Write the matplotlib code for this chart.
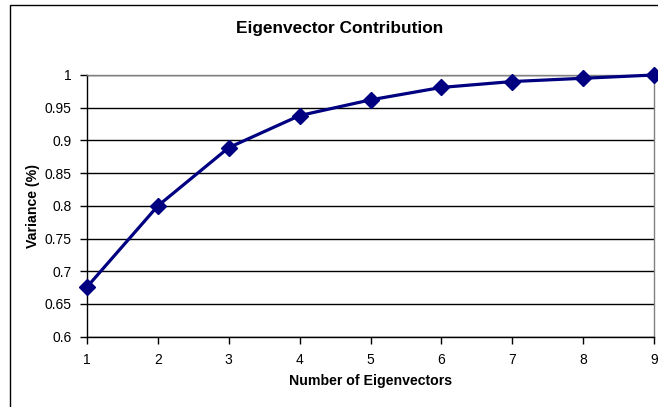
import matplotlib
matplotlib.use("Agg")
import matplotlib.pyplot as plt
from matplotlib.patches import Rectangle

# Cumulative variance explained by the leading eigenvectors
num_eigenvectors = [1, 2, 3, 4, 5, 6, 7, 8, 9]
variance = [0.676, 0.800, 0.889, 0.938, 0.962, 0.981, 0.990, 0.995, 1.000]
y_ticks = [0.6, 0.65, 0.7, 0.75, 0.8, 0.85, 0.9, 0.95, 1.0]
y_tick_labels = ["0.6", "0.65", "0.7", "0.75", "0.8", "0.85", "0.9", "0.95", "1"]

plt.rcParams["font.family"] = ["Liberation Sans", "DejaVu Sans"]

W, H = 658, 407
fig = plt.figure(figsize=(W / 100, H / 100), dpi=100)
fig.patch.set_facecolor("white")

# Chart frame (runs off the right and bottom edges)
fig.patches.append(Rectangle((10 / W, -0.05), 1.2, (H - 5) / H + 0.05,
                             transform=fig.transFigure, fill=False,
                             edgecolor="black", linewidth=1.0, zorder=0))

left, right = 87 / W, 654 / W
bottom, top = (H - 336.7) / H, (H - 75) / H
ax = fig.add_axes([left, bottom, right - left, top - bottom])

ax.plot(num_eigenvectors, variance, color="#000080", linewidth=2.3,
        marker="D", markersize=8, markeredgecolor="#000080",
        markerfacecolor="#000080", zorder=5, clip_on=False)

ax.set_xlim(1, 9)
ax.set_ylim(0.6, 1.0)
ax.set_xticks(num_eigenvectors)
ax.set_xticklabels([str(v) for v in num_eigenvectors])
ax.set_yticks(y_ticks)
ax.set_yticklabels(y_tick_labels)

ax.grid(axis="y", color="black", linewidth=1.0)
ax.set_axisbelow(True)

for side in ("top", "right"):
    ax.spines[side].set_color("#808080")
    ax.spines[side].set_linewidth(1.0)
for side in ("left", "bottom"):
    ax.spines[side].set_color("black")
    ax.spines[side].set_linewidth(1.0)

ax.tick_params(axis="both", direction="out", length=5, width=1,
               labelsize=10, colors="black", pad=6)
ax.tick_params(axis="x", pad=7)

ax.set_xlabel("Number of Eigenvectors", fontsize=10.2, fontweight="bold")
ax.set_ylabel("Variance (%)", fontsize=10.2, fontweight="bold")
ax.xaxis.set_label_coords((371 - 87) / 567, -(381.5 - 336.7) / 261.7)
ax.yaxis.set_label_coords((33 - 87) / 567, (336.7 - 206) / 261.7)
ax.xaxis.label.set_va("center")
ax.yaxis.label.set_va("center")

fig.text(339.5 / W, (H - 29) / H, "Eigenvector Contribution",
         ha="center", va="center", fontsize=12.4, fontweight="bold")

fig.savefig("out.png", dpi=100)
